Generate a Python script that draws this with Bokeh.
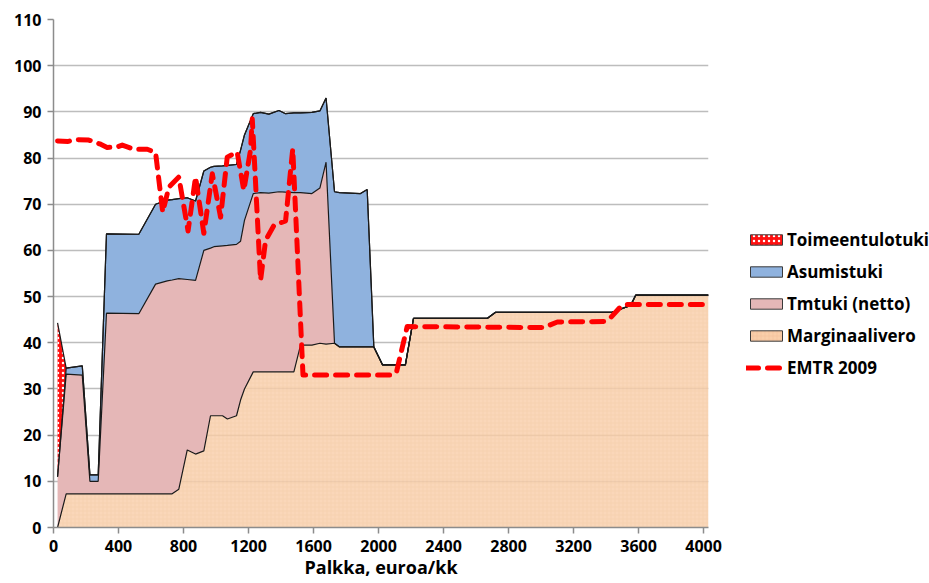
from bokeh.plotting import figure
from bokeh.layouts import row
from bokeh.models import ColumnDataSource, Legend, LegendItem, FixedTicker, Range1d
from bokeh.transform import stack
from bokeh.embed import file_html
from bokeh.resources import INLINE

# ---- data ----
palkka = [25, 78, 177, 224, 275, 326, 525, 628, 700, 730, 771, 823, 874, 925, 966, 987,
          1040, 1070, 1126, 1151, 1175, 1229, 1274, 1325, 1387, 1428, 1479, 1520, 1590,
          1639, 1677, 1729, 1760, 1889, 1930, 1971, 2025, 2165, 2215, 2670, 2720, 3437,
          3551, 3582, 4030]
marginaalivero = [0, 7.3, 7.3, 7.3, 7.3, 7.3, 7.3, 7.3, 7.3, 7.3, 8.3, 16.8, 15.9, 16.6, 24.2,
                  24.2, 24.2, 23.5, 24.2, 27.6, 30.0, 33.7, 33.7, 33.7, 33.7, 33.7, 33.7, 39.5,
                  39.5, 39.9, 39.7, 39.9, 39.1, 39.1, 39.1, 39.1, 35.2, 35.2, 45.3, 45.3, 46.6,
                  46.6, 48.1, 50.3, 50.3]
tmtuki = [11.0, 25.9, 25.7, 2.7, 2.7, 39.1, 39.0, 45.4, 46.1, 46.3, 45.6, 36.9, 37.6, 43.4, 36.3,
          36.6, 36.8, 37.6, 37.1, 34.4, 36.5, 38.6, 38.8, 38.7, 39.0, 38.9, 38.8, 33.0, 32.8,
          33.6, 39.4, 0, 0, 0, 0, 0, 0, 0, 0, 0, 0, 0, 0, 0, 0]
asumistuki = [0, 1.3, 2.0, 1.4, 1.4, 17.2, 17.2, 17.3, 17.5, 17.4, 17.3, 17.7, 17.2, 17.2, 17.5,
              17.4, 17.3, 17.3, 17.3, 19.7, 18.5, 17.3, 17.4, 17.1, 17.6, 17.0, 17.3, 17.3, 17.6,
              16.7, 13.9, 32.8, 33.4, 33.2, 34.1, 0, 0, 0, 0, 0, 0, 0, 0, 0, 0]
toimeentulotuki = [33.3] + [0] * 44

emtr_x = [25, 90, 135, 217, 290, 330, 392, 423, 494, 577, 628, 672, 710, 771, 828, 874, 925,
          977, 1028, 1069, 1130, 1171, 1212, 1223, 1274, 1305, 1356, 1428, 1472, 1535, 2074,
          2110, 2176, 3015, 3100, 3385, 3430, 3489, 3520, 4030]
emtr_2009 = [83.7, 83.6, 84.0, 83.9, 83.0, 82.3, 82.4, 82.8, 81.9, 81.9, 81.2, 68.3, 73.7, 75.9,
             64.2, 75.9, 63.7, 76.6, 67.2, 80.2, 81.3, 73.0, 81.7, 88.5, 53.5, 62.2, 65.4, 66.4,
             82.0, 33.0, 33.0, 33.6, 43.5, 43.3, 44.5, 44.6, 45.5, 47.8, 48.3, 48.3]

series_names = ["Toimeentulotuki", "Asumistuki", "Tmtuki (netto)", "Marginaalivero", "EMTR 2009"]
x_ticks = list(range(0, 4001, 400))
y_ticks = list(range(0, 111, 10))

FONT = "Open Sans"
C_MARG, C_TM, C_ASU, C_TOIM, C_EMTR = "#F9CEA9", "#E5B7B7", "#8FB2DE", "#FF1010", "#FF0000"
H = 583

src = ColumnDataSource(dict(x=palkka, marg=marginaalivero, tm=tmtuki,
                            asu=asumistuki, toim=toimeentulotuki))

p = figure(width=730, height=H, x_range=Range1d(0, 4030), y_range=Range1d(0, 110),
           output_backend="svg", toolbar_location=None,
           min_border_left=53, min_border_right=22, min_border_top=19, min_border_bottom=56)
p.outline_line_color = None
p.background_fill_color = "white"

# stacked areas
p.varea(x="x", y1=stack(), y2=stack("marg"), source=src,
        fill_color=C_MARG, fill_alpha=0.82,
        hatch_pattern="cross", hatch_color="#E9B48C", hatch_alpha=0.35,
        hatch_scale=4, hatch_weight=0.5)
p.varea(x="x", y1=stack("marg"), y2=stack("marg", "tm"), source=src, fill_color=C_TM)
p.varea(x="x", y1=stack("marg", "tm"), y2=stack("marg", "tm", "asu"), source=src,
        fill_color=C_ASU)
p.varea(x="x", y1=stack("marg", "tm", "asu"), y2=stack("marg", "tm", "asu", "toim"),
        source=src, fill_color=C_TOIM,
        hatch_pattern="dot", hatch_color="white", hatch_scale=5, hatch_weight=1.5)

# outlines of each layer
for cols in (("marg",), ("marg", "tm"), ("marg", "tm", "asu"), ("marg", "tm", "asu", "toim")):
    p.line(x="x", y=stack(*cols), source=src, line_color="#1a1a1a", line_width=1.2)

# EMTR line
p.line(emtr_x, emtr_2009, line_color=C_EMTR, line_width=5,
       line_dash="12 9", line_cap="round", line_join="round")

# axes
p.xaxis.ticker = FixedTicker(ticks=x_ticks)
p.yaxis.ticker = FixedTicker(ticks=y_ticks)
for ax in (p.xaxis, p.yaxis):
    ax.axis_line_color = "#8C8C8C"
    ax.axis_line_width = 1.5
    ax.major_tick_line_color = "#8C8C8C"
    ax.major_tick_line_width = 1.5
    ax.major_tick_out = 6
    ax.major_tick_in = 0
    ax.minor_tick_line_color = None
    ax.major_label_text_font = FONT
    ax.major_label_text_font_style = "bold"
    ax.major_label_text_font_size = "16px"
    ax.major_label_text_color = "black"
p.xaxis.major_label_standoff = 6
p.yaxis.major_label_standoff = 6
p.xaxis.axis_label = "Palkka, euroa/kk"
p.xaxis.axis_label_text_font = FONT
p.xaxis.axis_label_text_font_style = "bold"
p.xaxis.axis_label_text_font_size = "18px"
p.xaxis.axis_label_text_color = "black"
p.xaxis.axis_label_standoff = 0

p.xgrid.visible = False
p.ygrid.grid_line_color = "#BDBDBD"
p.ygrid.grid_line_width = 1.5

# ---- legend panel (separate figure holding only the legend) ----
pl = figure(width=199, height=H, x_range=Range1d(0, 1), y_range=Range1d(0, 1),
            x_axis_type=None, y_axis_type=None, output_backend="svg", toolbar_location=None,
            min_border_left=0, min_border_right=0, min_border_top=0, min_border_bottom=0)
pl.outline_line_color = None
pl.grid.visible = False

def proxy_box(**kw):
    return pl.quad(left=[0], right=[0], top=[0], bottom=[0], line_color="#3a3a3a",
                   line_width=1, visible=False, **kw)

prx = [
    proxy_box(fill_color=C_TOIM, hatch_pattern="dot", hatch_color="white",
              hatch_scale=5, hatch_weight=1.5),
    proxy_box(fill_color=C_ASU),
    proxy_box(fill_color=C_TM),
    proxy_box(fill_color=C_MARG, hatch_pattern="cross", hatch_color="#E9B48C",
              hatch_alpha=0.6, hatch_scale=4, hatch_weight=0.5),
    pl.line([0], [0], line_color=C_EMTR, line_width=5, line_dash="12 9",
            line_cap="round", visible=False),
]

legend = Legend(items=[LegendItem(label=n, renderers=[r]) for n, r in zip(series_names, prx)],
                location=(16, 148))
legend.glyph_width = 40
legend.glyph_height = 13
legend.label_height = 22
legend.spacing = 9
legend.padding = 0
legend.margin = 0
legend.label_standoff = 1
legend.border_line_color = None
legend.background_fill_alpha = 0
legend.inactive_fill_alpha = 0
legend.label_text_font = FONT
legend.label_text_font_style = "bold"
legend.label_text_font_size = "17px"
legend.label_text_color = "black"
pl.add_layout(legend)

layout = row(p, pl, spacing=0)
open("out.html", "w").write(file_html(layout, INLINE))
